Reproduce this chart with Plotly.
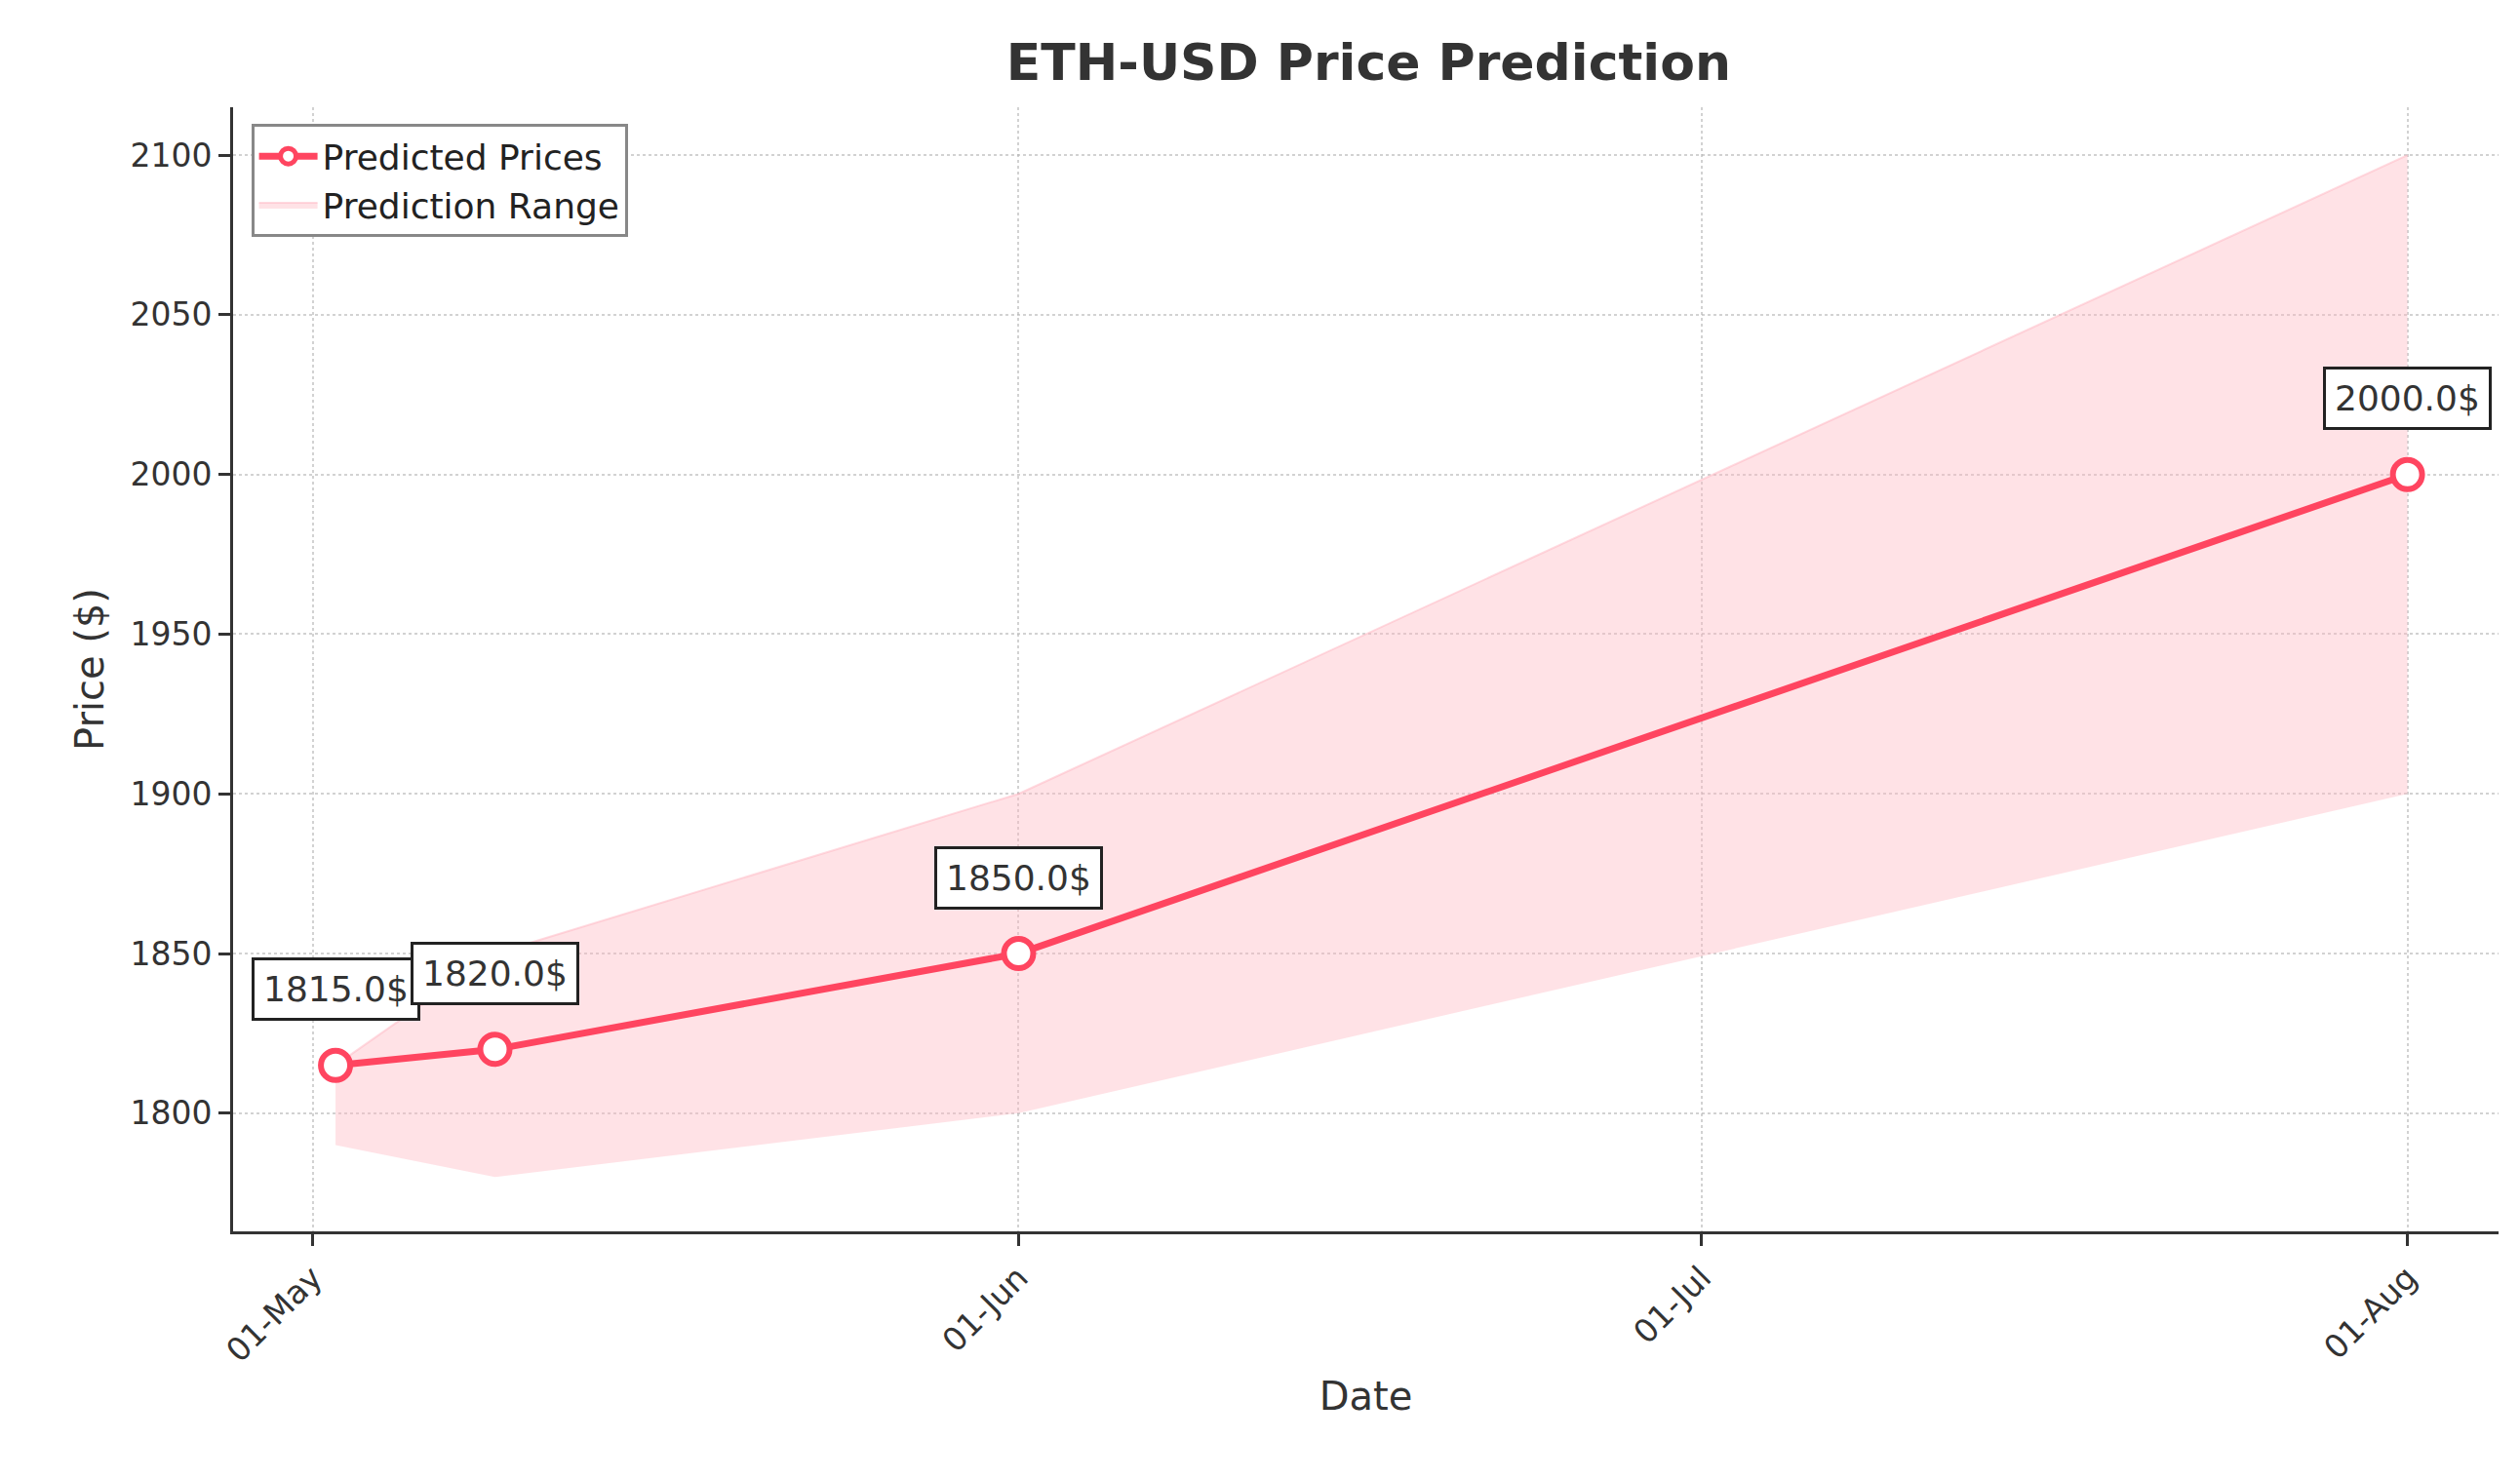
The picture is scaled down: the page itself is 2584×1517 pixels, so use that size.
import plotly.graph_objects as go

dates = ["2023-05-02", "2023-05-09", "2023-06-01", "2023-08-01"]
predicted = [1815.0, 1820.0, 1850.0, 2000.0]
lower = [1790, 1780, 1800, 1900]
upper = [1815, 1850, 1900, 2100]
tick_vals = ["2023-05-01", "2023-06-01", "2023-07-01", "2023-08-01"]
tick_text = ["01-May", "01-Jun", "01-Jul", "01-Aug"]

RED = "#FF4560"
FONT = "DejaVu Sans"

fig = go.Figure()

fig.add_trace(go.Scatter(x=dates, y=lower, mode="lines", line=dict(width=0),
                         showlegend=False, hoverinfo="skip"))
fig.add_trace(go.Scatter(x=dates, y=upper, mode="lines", fill="tonexty",
                         fillcolor="rgba(255,182,193,0.4)",
                         line=dict(width=2, color="rgba(255,182,193,0.5)"),
                         name="Prediction Range"))
fig.add_trace(go.Scatter(x=dates, y=predicted, mode="lines+markers",
                         line=dict(color=RED, width=7),
                         marker=dict(size=30, color="white", line=dict(color=RED, width=6)),
                         name="Predicted Prices"))

for d, p in zip(dates, predicted):
    fig.add_annotation(x=d, y=p, text=f"{p}$", showarrow=False, yshift=78,
                       font=dict(size=36, color="#333333", family=FONT),
                       bgcolor="white", bordercolor="#222222", borderwidth=3, borderpad=9)

axis_common = dict(showline=True, linecolor="#333333", linewidth=3, ticks="outside",
                   ticklen=12, tickwidth=3, tickcolor="#333333",
                   showgrid=True, gridcolor="rgba(180,180,180,0.6)", griddash="dot",
                   gridwidth=2, zeroline=False, mirror=False,
                   tickfont=dict(size=33, color="#333333", family=FONT))

fig.update_layout(
    width=2584, height=1517,
    paper_bgcolor="white", plot_bgcolor="white",
    title=dict(text="<b>ETH-USD Price Prediction</b>", x=0.54, xanchor="center", y=0.975,
               font=dict(size=52, color="#333333", family=FONT)),
    xaxis=dict(axis_common, range=["2023-04-27 12:00", "2023-08-05"],
               tickvals=tick_vals, ticktext=tick_text, tickangle=-45,
               title=dict(text="Date", font=dict(size=40, color="#333333", family=FONT))),
    yaxis=dict(axis_common, range=[1763, 2115], tickvals=[1800, 1850, 1900, 1950, 2000, 2050, 2100],
               title=dict(text="Price ($)", font=dict(size=40, color="#333333", family=FONT))),
    margin=dict(l=231, r=30, t=102, b=262),
    legend=dict(x=0.008, y=0.985, xanchor="left", yanchor="top", traceorder="reversed",
                bgcolor="white", bordercolor="#888888", borderwidth=3,
                itemwidth=60,
                font=dict(size=36, color="#222222", family=FONT)),
)

fig.write_html("out.html")
